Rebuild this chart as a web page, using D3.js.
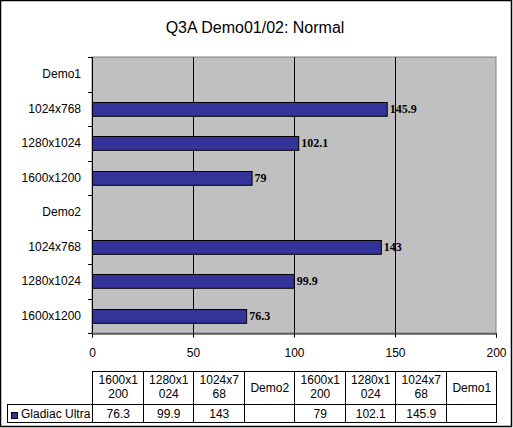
<!DOCTYPE html>
<html>
<head>
<meta charset="utf-8">
<script src="https://cdn.jsdelivr.net/npm/d3@7"></script>
<style>
  body { margin: 0; background: #fff; }
  svg { display: block; font-family: "Liberation Sans", Arial, sans-serif; }
</style>
</head>
<body>
<div id="chart"></div>
<script>
// data (top to bottom)
var categories = ["Demo1", "1024x768", "1280x1024", "1600x1200", "Demo2", "1024x768", "1280x1024", "1600x1200"];
var values = [null, 145.9, 102.1, 79, null, 143, 99.9, 76.3];
var seriesName = "Gladiac Ultra";
var xTicks = [0, 50, 100, 150, 200];
// data table headers, wrapped the way the picture wraps them (bottom to top order)
var tableHeads = [["1600x1", "200"], ["1280x1", "024"], ["1024x7", "68"], ["Demo2"],
                  ["1600x1", "200"], ["1280x1", "024"], ["1024x7", "68"], ["Demo1"]];

var W = 513, H = 428;
var plot = {left: 92, right: 496, top: 57, bottom: 333};

var svg = d3.select("#chart").append("svg")
  .attr("width", W).attr("height", H);

svg.append("rect")
  .attr("x", 0.5).attr("y", 0.5)
  .attr("width", W - 2).attr("height", H - 2)
  .attr("fill", "#fff").attr("stroke", "#000").attr("stroke-width", 1.5);

svg.append("text")
  .attr("x", 255).attr("y", 33)
  .attr("text-anchor", "middle")
  .style("font-size", "16px")
  .text("Q3A Demo01/02: Normal");

var x = d3.scaleLinear().domain([0, 200]).range([plot.left, plot.right]);
var y = d3.scaleBand()
  .domain(d3.range(categories.length))
  .range([plot.top, plot.bottom])
  .paddingInner(0.6).paddingOuter(0.3);
var yStep = y.step();

// plot area
svg.append("rect")
  .attr("x", plot.left).attr("y", plot.top)
  .attr("width", plot.right - plot.left).attr("height", plot.bottom - plot.top)
  .attr("fill", "#c0c0c0").attr("stroke", "#808080");

// gridlines
svg.append("g").selectAll("line")
  .data(xTicks.slice(1, -1))
  .enter().append("line")
  .attr("x1", function(d) { return Math.round(x(d)) + 0.5; })
  .attr("x2", function(d) { return Math.round(x(d)) + 0.5; })
  .attr("y1", plot.top).attr("y2", plot.bottom)
  .attr("stroke", "#000");

// bars
svg.append("g").selectAll("rect")
  .data(values.map(function(v, i) { return [i, v]; }).filter(function(d) { return d[1] != null; }))
  .enter().append("rect")
  .attr("x", x(0) + 0.5)
  .attr("y", function(d) { return Math.round(y(d[0])) + 0.5; })
  .attr("width", function(d) { return x(d[1]) - x(0); })
  .attr("height", y.bandwidth())
  .attr("fill", "#333399")
  .attr("stroke", "#000");

// value labels
svg.append("g").selectAll("text")
  .data(values.map(function(v, i) { return [i, v]; }).filter(function(d) { return d[1] != null; }))
  .enter().append("text")
  .attr("x", function(d) { return x(d[1]) + 3; })
  .attr("y", function(d) { return y(d[0]) + y.bandwidth() / 2 + 4; })
  .style("font-family", "'Liberation Serif', 'Times New Roman', serif")
  .style("font-weight", "bold")
  .style("font-size", "12px")
  .text(function(d) { return d[1]; });

// y axis
var yAxis = svg.append("g");
yAxis.append("line")
  .attr("x1", plot.left + 0.5).attr("x2", plot.left + 0.5)
  .attr("y1", plot.top).attr("y2", plot.bottom)
  .attr("stroke", "#000");
yAxis.selectAll("line.tick")
  .data(d3.range(categories.length + 1))
  .enter().append("line").attr("class", "tick")
  .attr("x1", plot.left - 4).attr("x2", plot.left)
  .attr("y1", function(i) { return Math.round(plot.top + i * yStep) + 0.5; })
  .attr("y2", function(i) { return Math.round(plot.top + i * yStep) + 0.5; })
  .attr("stroke", "#000");
yAxis.selectAll("text")
  .data(categories)
  .enter().append("text")
  .attr("x", 81)
  .attr("y", function(d, i) { return y(i) + y.bandwidth() / 2 + 4; })
  .attr("text-anchor", "end")
  .style("font-size", "12px")
  .text(function(d) { return d; });

// x axis
var xAxis = svg.append("g")
  .attr("transform", "translate(0," + (plot.bottom + 0.5) + ")")
  .call(d3.axisBottom(x).tickValues(xTicks).tickSize(4).tickPadding(11));
xAxis.select(".domain").attr("stroke", "#000");
xAxis.selectAll(".tick line").attr("stroke", "#000");
xAxis.selectAll("text")
  .style("font-size", "12px")
  .style("font-family", "'Liberation Sans', Arial, sans-serif")
  .attr("fill", "#000");

// data table
var colW = (plot.right - plot.left) / tableHeads.length;
var tTop = 371, tMid = 404, tBot = 422;
var tableVals = values.slice().reverse();
var tbl = svg.append("g").attr("stroke", "#000").attr("fill", "none");
tbl.append("rect").attr("x", plot.left + 0.5).attr("y", tTop + 0.5)
  .attr("width", plot.right - plot.left).attr("height", tBot - tTop);
tbl.append("rect").attr("x", 7.5).attr("y", tMid + 0.5)
  .attr("width", plot.left - 7).attr("height", tBot - tMid);
tbl.append("line").attr("x1", plot.left).attr("x2", plot.right)
  .attr("y1", tMid + 0.5).attr("y2", tMid + 0.5);
tbl.selectAll("line.col")
  .data(d3.range(1, tableHeads.length))
  .enter().append("line").attr("class", "col")
  .attr("x1", function(i) { return Math.round(plot.left + i * colW) + 0.5; })
  .attr("x2", function(i) { return Math.round(plot.left + i * colW) + 0.5; })
  .attr("y1", tTop).attr("y2", tBot);

var heads = svg.append("g").style("font-size", "12px").attr("text-anchor", "middle");
tableHeads.forEach(function(lines, i) {
  var cx = plot.left + (i + 0.5) * colW + 1;
  var y0 = lines.length == 1 ? (tTop + tMid) / 2 + 4 : tTop + 13;
  var t = heads.append("text").attr("x", cx).attr("y", y0);
  lines.forEach(function(l, j) {
    t.append("tspan").attr("x", cx).attr("dy", j == 0 ? 0 : 14).text(l);
  });
  heads.append("text").attr("x", cx).attr("y", tBot - 4)
    .text(tableVals[i] == null ? "" : tableVals[i]);
});

svg.append("rect")
  .attr("x", 11.5).attr("y", 412.5).attr("width", 6).attr("height", 6)
  .attr("fill", "#333399").attr("stroke", "#000");
svg.append("text")
  .attr("x", 21).attr("y", tBot - 4)
  .style("font-size", "12px")
  .text(seriesName);
</script>
</body>
</html>
